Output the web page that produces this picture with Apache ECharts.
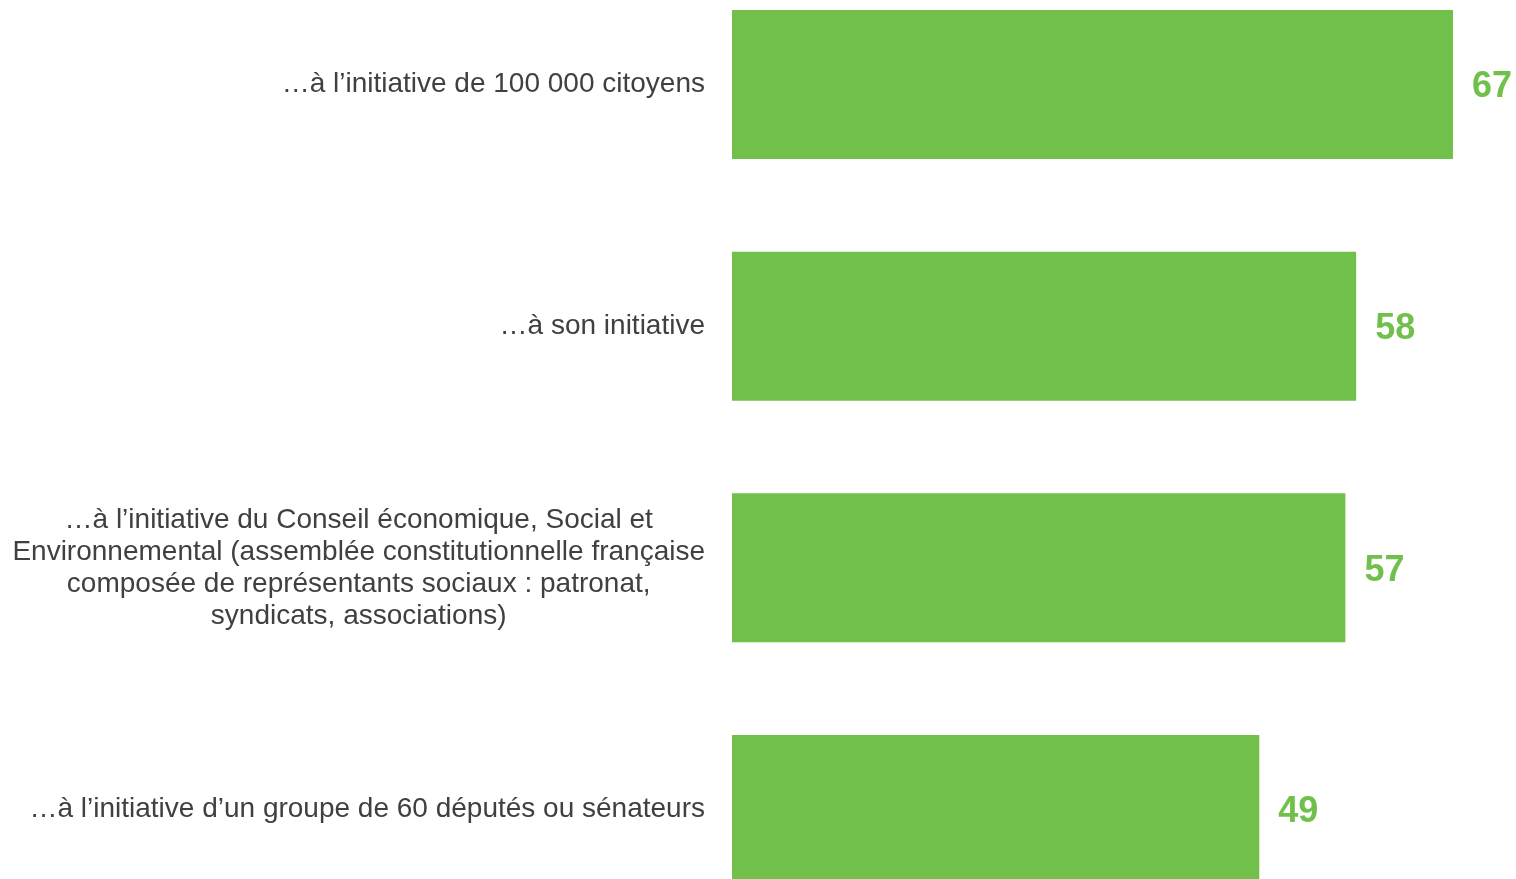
<!DOCTYPE html>
<html>
<head>
<meta charset="utf-8">
<script src="https://cdn.jsdelivr.net/npm/echarts@6/dist/echarts.min.js"></script>
<style>
html,body{margin:0;padding:0;background:#fff;}
#chart{width:1516px;height:879px;}
</style>
</head>
<body>
<div id="chart"></div>
<script>
const categories = [
  "…à l’initiative de 100 000 citoyens",
  "…à son initiative",
  "…à l’initiative du Conseil économique, Social et\nEnvironnemental (assemblée constitutionnelle française\ncomposée de représentants sociaux : patronat,\nsyndicats, associations)",
  "…à l’initiative d’un groupe de 60 députés ou sénateurs"
];
const values = [67, 58, 57, 49];

const FONT = "'Liberation Sans', Arial, sans-serif";
const chart = echarts.init(document.getElementById('chart'), null, {renderer: 'canvas'});
chart.setOption({
  backgroundColor: '#ffffff',
  animation: false,
  grid: {left: 732, right: 9.2, top: 84.5, bottom: 69.5, containLabel: false},
  xAxis: {
    type: 'value', min: 0, max: 72,
    show: false
  },
  yAxis: {
    type: 'category',
    inverse: true,
    boundaryGap: false,
    data: categories,
    axisLine: {show: false},
    axisTick: {show: false},
    splitLine: {show: false},
    axisLabel: {
      margin: 27,
      align: 'right',
      fontFamily: FONT,
      fontSize: 28,
      color: '#404040',
      lineHeight: 32,
      formatter: function (v) {
        return v.split('\n').map(l => '{c|' + l + '}').join('\n');
      },
      rich: {
        c: {align: 'center', fontFamily: FONT, fontSize: 28, color: '#404040', lineHeight: 32}
      }
    }
  },
  series: [{
    type: 'bar',
    data: values,
    barWidth: 149,
    itemStyle: {color: '#72C04C'},
    label: {
      show: true,
      position: 'right',
      distance: 19,
      offset: [0, 3],
      fontFamily: FONT,
      fontSize: 36,
      fontWeight: 'bold',
      color: '#72C04C'
    }
  }]
});
</script>
</body>
</html>
